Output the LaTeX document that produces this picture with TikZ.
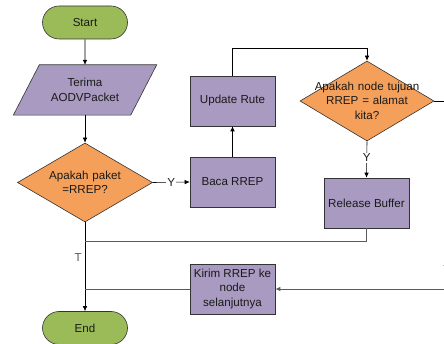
\documentclass[tikz,border=0pt]{standalone}
\usepackage{fontspec}
\setmainfont{Liberation Sans}
\usetikzlibrary{arrows.meta,shapes.geometric,shapes.misc}

\definecolor{termgreen}{HTML}{9BBB59}
\definecolor{procpurple}{HTML}{A89AC0}
\definecolor{decorange}{HTML}{F5A05A}
\definecolor{linkgray}{HTML}{5A5A5A}
\definecolor{txt}{HTML}{1A1A1A}

\tikzset{
  x=1pt, y=-1pt,
  every node/.style={font=\fontsize{11.6}{14.5}\selectfont, text=txt, align=center},
  term/.style={rounded rectangle, draw=black!80, fill=termgreen, line width=0.6pt,
    minimum width=85pt, minimum height=33pt, inner sep=0pt},
  proc/.style={rectangle, draw=black!80, fill=procpurple, line width=0.6pt,
    minimum width=85pt, minimum height=50pt, inner sep=0pt},
  iobox/.style={rectangle, minimum width=117pt, minimum height=50pt, inner sep=0pt},
  decide/.style={diamond, draw=black!80, fill=decorange, line width=0.6pt, inner sep=0pt},
  flow/.style={draw=black, line width=0.6pt},
  arr/.style={flow, -{Latex[length=5pt,width=4.5pt]}},
  mergeline/.style={draw=linkgray, line width=0.9pt},
  lbl/.style={fill=white, inner sep=1pt, font=\fontsize{11.6}{12}\selectfont},
}

\begin{document}
\begin{tikzpicture}
\useasboundingbox (0,0) rectangle (444,344);
\clip (0,0) rectangle (444,344);

% terminators, process boxes and decisions
\node[term] (start) at (85,22.5) {Start};
\node[iobox] (recv) at (85,90) {};
\filldraw[fill=procpurple, draw=black!80, line width=0.6pt]
  ([xshift=13pt]recv.north west) -- ([xshift=13pt]recv.north east)
  -- ([xshift=-13pt]recv.south east) -- ([xshift=-13pt]recv.south west) -- cycle;
\node at (recv) {Terima\\AODVPacket};

\node[decide, minimum width=135pt, minimum height=79pt] (d1) at (85,182.5) {};
\node[text width=130pt] at (85,182.5) {Apakah paket\\=RREP?};

\node[proc] (baca) at (232.5,182) {Baca RREP};
\node[proc] (upd) at (232.5,101) {Update Rute};

\node[decide, minimum width=134pt, minimum height=80pt] (d2) at (367,101) {};
\node[text width=140pt] at (367,100.5) {Apakah node tujuan\\RREP = alamat\\kita?};

\node[proc] (rel) at (366.5,203) {Release Buffer};
\node[proc] (kirim) at (232.5,289) {Kirim RREP ke\\node\\selanjutnya};

\node[term] (end) at (85,328) {End};

% junction points on the main line and the off-page turn
\coordinate (j1) at (85,241);
\coordinate (j2) at (85,289);
\coordinate (top) at (232.5,48);
\coordinate (farR) at (470,101);

% connectors
\draw[arr] (start) -- (recv);
\draw[arr] (recv.south) -- (d1.north);
\draw[arr] (d1.east) -- node[lbl] {Y} (baca.west);
\draw[arr] (baca) -- (upd);
\draw[arr] (upd.north) -- (top) -| (d2.north);
\draw[arr] (d2.south) -- node[lbl, pos=0.45] {Y} (rel.north);
\draw[arr] (d1.south) -- node[pos=0.4, left=3pt, text=linkgray, inner sep=0pt] {T} (end.north);
\draw[mergeline] (rel.south) |- (j1);
\draw[mergeline] (kirim.west) -- (j2);
\draw[flow] (d2.east) -- (farR);
\draw[mergeline, -{Latex[length=5pt,width=4.5pt]}] (farR) |- (kirim.east);
\node[text=linkgray, inner sep=0pt] (tR) at (447,270) {T};
\end{tikzpicture}
\end{document}
